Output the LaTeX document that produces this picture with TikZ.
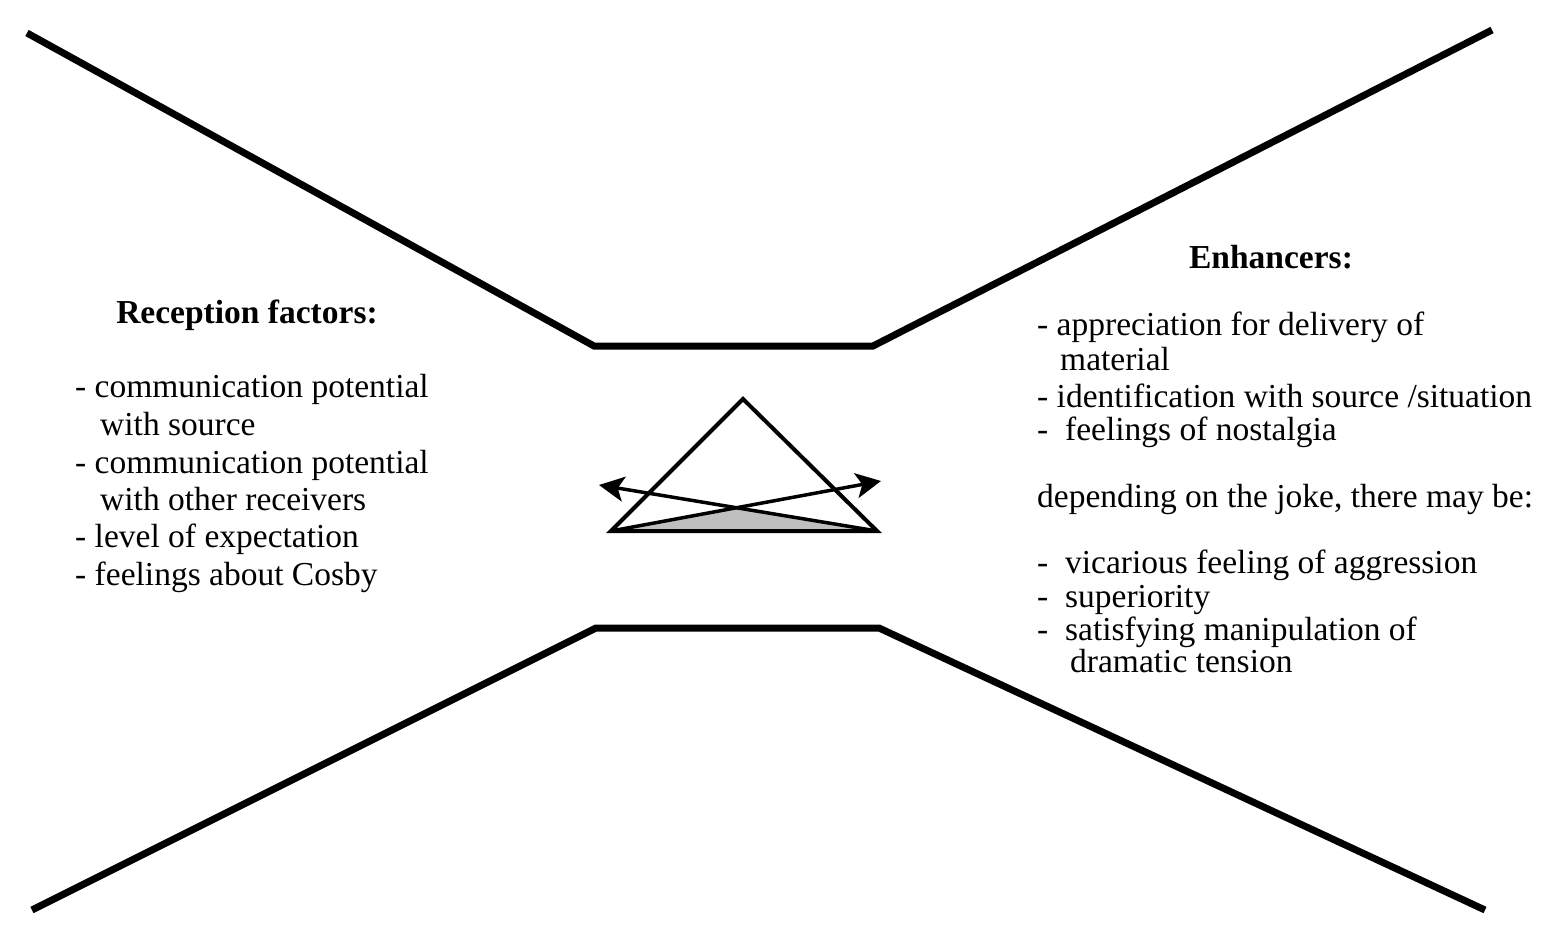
\documentclass[tikz,border=0pt]{standalone}
\usepackage{fontspec}
\setmainfont{Liberation Serif}
\usetikzlibrary{arrows.meta}
\begin{document}
\begin{tikzpicture}[x=1pt,y=-1pt,
  wall/.style={line width=7pt,line cap=butt},
  tri/.style={line width=4pt,line join=miter},
  arr/.style={line width=3.5pt,-{Stealth[length=25pt,width=25pt,inset=6pt]}},
  txt/.style={anchor=base west,inner sep=0pt,font=\fontsize{33.5}{37}\selectfont},
  ttl/.style={anchor=base,inner sep=0pt,font=\fontsize{33.5}{37}\selectfont\bfseries}]
\useasboundingbox (0,0) rectangle (1554,936);
% funnel walls
\coordinate (tl) at (27,33);
\coordinate (tml) at (594,346);
\coordinate (tmr) at (873,346);
\coordinate (tr) at (1492,30);
\coordinate (bl) at (32,910);
\coordinate (bml) at (596,628);
\coordinate (bmr) at (879,628);
\coordinate (br) at (1485,910);
\draw[wall] (tl) -- (tml) -- (tmr) -- (tr);
\draw[wall] (bl) -- (bml) -- (bmr) -- (br);
% triangle
\coordinate (apex) at (743,399);
\coordinate (tbl) at (611,531);
\coordinate (tbr) at (877,531);
\coordinate (cross) at (740,508);
\coordinate (ltip) at (599,485);
\coordinate (rtip) at (881,481);
\fill[gray!50] (tbl) -- (cross) -- (tbr) -- cycle;
\draw[tri] (apex) -- (tbl) -- (tbr) -- cycle;
\draw[arr] (tbr) -- (ltip);
\draw[arr] (tbl) -- (rtip);
% left text
\node[ttl] (lt) at (247,323) {Reception factors:};
\node[txt] (l1) at (75,397) {- communication potential};
\node[txt] (l2) at (100,435) {with source};
\node[txt] (l3) at (75,473) {- communication potential};
\node[txt] (l4) at (100,510) {with other receivers};
\node[txt] (l5) at (75,547) {- level of expectation};
\node[txt] (l6) at (75,585) {- feelings about Cosby};
% right text
\node[ttl] (rt) at (1271,268) {Enhancers:};
\node[txt] (r1) at (1037,335) {- appreciation for delivery of};
\node[txt] (r2) at (1060,370) {material};
\node[txt] (r3) at (1037,407) {- identification with source /situation};
\node[txt] (r4) at (1037,440) {-\ \ feelings of nostalgia};
\node[txt] (r5) at (1037,507) {depending on the joke, there may be:};
\node[txt] (r6) at (1037,573) {-\ \ vicarious feeling of aggression};
\node[txt] (r7) at (1037,607) {-\ \ superiority};
\node[txt] (r8) at (1037,640) {-\ \ satisfying manipulation of};
\node[txt] (r9) at (1070,672) {dramatic tension};
\end{tikzpicture}
\end{document}
